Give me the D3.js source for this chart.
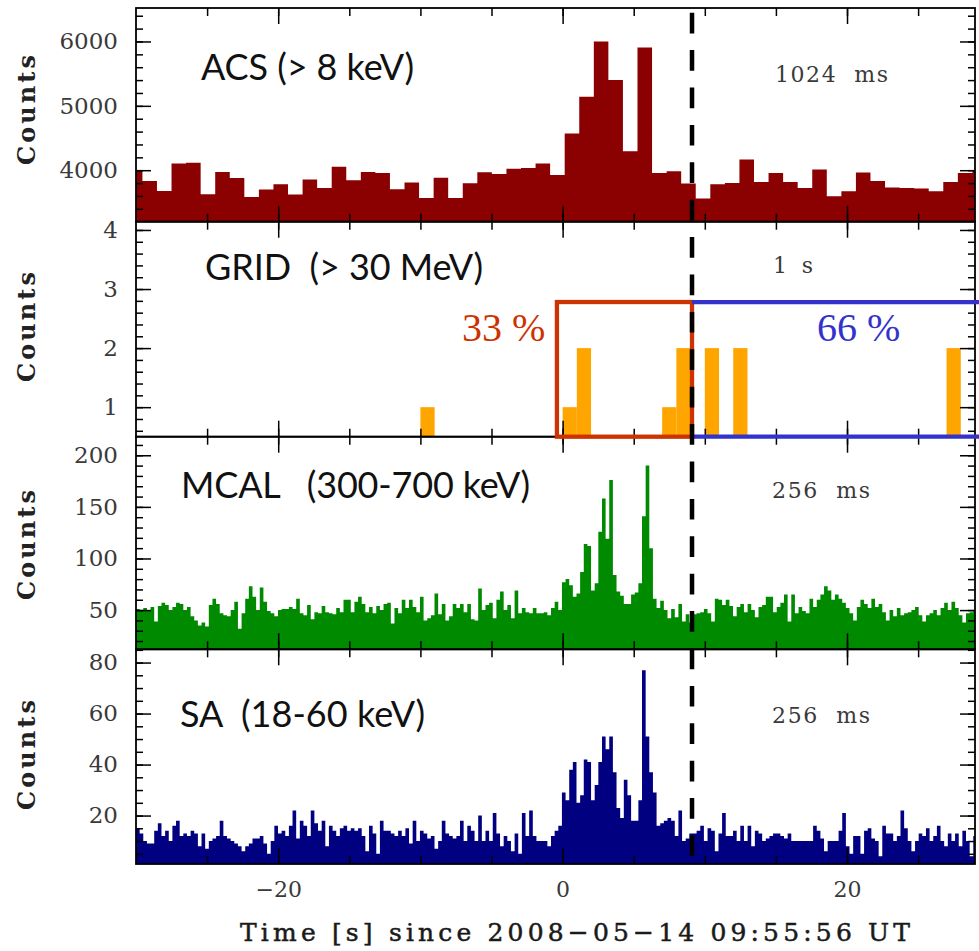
<!DOCTYPE html>
<html>
<head>
<meta charset="utf-8">
<script src="https://cdn.jsdelivr.net/npm/d3@7"></script>
<style>
  html, body { margin: 0; padding: 0; background: #fff; }
  svg { display: block; }
  text { white-space: pre; }
</style>
</head>
<body>
<script>
// ---------------- data ----------------
// ACS light curve, 1.024 s bins (first bin partly before the plotted range)
const acsStart = -30.574;
const acsBinWidth = 1.024;
const acsCounts = [4000, 3834, 3678, 4104, 4114, 3626, 3974, 3880, 3585, 3699,
  3782, 3621, 3855, 3725, 4052, 3844, 3974, 3958, 3705, 3810,
  3569, 3883, 3569, 3798, 3967, 3940, 4024, 4036, 4104, 3927,
  4571, 5142, 6000, 5402, 4296, 5907, 3958, 3984, 3792, 3559,
  3782, 3803, 4166, 3818, 3958, 3818, 3725, 4010, 3595, 3673,
  3964, 3834, 3730, 3725, 3715, 3673, 3818, 3958, 3990];

// GRID photons above 30 MeV, 1 s bins (only non-empty bins listed)
const gridBinStarts = [-10, 0, 1, 7, 8, 10, 12, 27];
const gridCounts = [1, 1, 2, 1, 2, 2, 2, 2];
const gridBinWidth = 1;

// MCAL 300-700 keV, 256 ms bins
const mcalStart = -30;
const mcalBinWidth = 0.256;
const mcalCounts = [51, 50, 52, 49, 53, 39, 54, 57, 55, 50, 53, 57, 56, 50, 53,
  44, 40, 35, 38, 34, 55, 61, 56, 47, 45, 44, 50, 58, 32, 47,
  61, 73, 63, 50, 72, 58, 49, 47, 44, 50, 51, 51, 53, 51, 61,
  47, 45, 55, 41, 48, 47, 54, 48, 47, 46, 52, 48, 60, 60, 48,
  58, 63, 56, 48, 53, 47, 54, 50, 56, 57, 37, 52, 47, 60, 52,
  60, 53, 48, 63, 40, 42, 45, 66, 46, 56, 40, 44, 56, 52, 56,
  48, 56, 41, 40, 71, 50, 55, 57, 42, 60, 68, 50, 55, 42, 69,
  47, 52, 48, 47, 52, 47,
  47, 48, 45, 52, 58, 50, 77, 80, 74, 63, 66, 87,
  114, 112, 69, 76, 126, 158, 119, 176, 84, 68, 64, 56,
  56, 65, 67, 76, 141, 190, 110, 61, 52, 59, 50, 42,
  51, 43, 56, 39, 46, 38,
  46, 47, 48, 51, 47, 39, 61, 60, 55, 60, 54, 44, 53, 56, 48, 56, 50, 43,
  53, 55, 63, 63, 48, 53, 57, 65, 39, 65, 47, 53, 49, 47, 61, 53, 60, 65,
  73, 69, 60, 65, 61, 57, 52, 47, 40, 53, 60, 56, 52, 61, 53, 56, 48, 40,
  50, 44, 52, 45, 47, 48, 50, 53, 45, 39, 45, 47, 50, 45, 52, 57, 50, 58,
  52, 45, 38, 47, 48, 50];

// SuperAGILE 18-60 keV, 256 ms bins
const saStart = -30;
const saBinWidth = 0.256;
const saCounts = [15, 13, 10, 9, 9, 14, 17, 12, 14, 10, 16, 18, 12, 13, 12,
  14, 13, 8, 13, 7, 10, 11, 12, 18, 12, 11, 10, 9, 8, 6,
  8, 9, 11, 11, 12, 9, 5, 10, 16, 13, 14, 12, 16, 22, 11,
  18, 16, 12, 22, 17, 14, 18, 8, 16, 14, 12, 15, 16, 14, 15,
  14, 15, 12, 6, 16, 13, 5, 18, 14, 14, 13, 12, 14, 12, 15,
  9, 18, 10, 14, 13, 11, 12, 7, 10, 18, 13, 12, 11, 12, 18,
  10, 16, 14, 10, 20,
  10, 14, 10, 21, 13, 8, 12, 10, 6, 13, 5, 21, 12, 22, 12, 10,
  10, 10, 8, 12, 14, 16, 29, 26, 38, 41, 25, 28, 42, 41, 26, 32, 41, 51,
  46, 51, 37, 23, 19, 34, 28, 18, 18, 26, 77, 51, 37, 29, 16, 17, 18, 19,
  18, 12, 22, 10, 11, 13,
  13, 14, 16, 10, 15, 14, 6, 13, 21, 12, 12, 14, 10, 16, 10, 16, 8, 14,
  13, 10, 11, 12, 13, 13, 12, 11, 13, 10, 10, 10, 10, 10, 10, 16, 14, 11,
  6, 10, 10, 10, 14, 21, 8, 5, 12, 12, 5, 14, 15, 11, 10, 4, 16, 13,
  13, 10, 12, 22, 15, 10, 6, 10, 13, 12, 15, 10, 12, 16, 10, 8, 13, 10,
  13, 8, 14, 10, 4, 12];

const timeTicks = [-20, 0, 20];
const countTicks = [[4000, 5000, 6000], [1, 2, 3, 4], [50, 100, 150, 200], [20, 40, 60, 80]];
const panelNames = ["ACS (> 8 keV)", "GRID  (> 30 MeV)", "MCAL   (300-700 keV)", "SA  (18-60 keV)"];
const binLabels = ["1024  ms", "1  s", "256  ms", "256  ms"];
const shareLabels = ["33 %", "66 %"];
const burstWindow = [-0.4, 9.1];   // start of the first window, and the split time
const boxTopCounts = 2.78;          // upper edge of the GRID windows, in counts
const xTitle = "Time [s] since 2008\u221205\u221214 09:55:56 UT";

// ---------------- layout ----------------
const W = 979, H = 951;
const left = 136, right = 975;
const rows = [[8, 221.7], [221.7, 436.7], [436.7, 649.3], [649.3, 864]];
const yDomains = [[3200, 6520], [0.5, 4.14], [12, 218], [1, 85.2]];
const minorSteps = [200, 0.2, 10, 5];
const fills = ["#8b0000", "#ffa500", "#008a00", "#000080"];
const countsLabelY = [110, 327, 545, 755];
const nameLayout = [
  { x: 201, y: 80, len: 213 },
  { x: 205, y: 280, len: 278 },
  { x: 181, y: 498, len: 349 },
  { x: 180, y: 727, len: 245 }
];
const binLabelLayout = [
  { x: 775, y: 82, len: 113 },
  { x: 773, y: 273, len: 40 },
  { x: 772, y: 498, len: 98 },
  { x: 772, y: 723, len: 98 }
];
const serif = "'DejaVu Serif', serif";
const tickGray = "#3a3a3a";

const svg = d3.select("body").append("svg")
  .attr("width", W).attr("height", H)
  .style("font-family", serif);

const x = d3.scaleLinear().domain([-30, 29]).range([left, right]);
const minorX = d3.range(-25, 29, 5);

const series = [
  { counts: acsCounts, start: acsStart, width: acsBinWidth },
  null,
  { counts: mcalCounts, start: mcalStart, width: mcalBinWidth },
  { counts: saCounts, start: saStart, width: saBinWidth }
];

function tidy(g) {
  g.select(".domain").remove();
  g.selectAll("line").attr("stroke", "#000").attr("stroke-width", 1.5);
  g.attr("font-family", null).attr("font-size", null);
}

const yScales = [];

rows.forEach(([top, bottom], i) => {
  const y = d3.scaleLinear().domain(yDomains[i]).range([bottom, top]);
  yScales.push(y);

  svg.append("clipPath").attr("id", "clip" + i)
    .append("rect")
    .attr("x", left).attr("y", top)
    .attr("width", right - left).attr("height", bottom - top);
  const layer = svg.append("g").attr("clip-path", `url(#clip${i})`);

  if (i === 1) {
    layer.selectAll("rect")
      .data(gridBinStarts.map((t, k) => ({ t, v: gridCounts[k] })))
      .join("rect")
      .attr("x", d => x(d.t))
      .attr("width", d => x(d.t + gridBinWidth) - x(d.t))
      .attr("y", d => y(d.v))
      .attr("height", d => y(yDomains[i][0]) - y(d.v))
      .attr("fill", fills[i]);
  } else {
    const s = series[i];
    const pts = s.counts.flatMap((v, k) => [
      [s.start + k * s.width, v],
      [s.start + (k + 1) * s.width, v]
    ]);
    const area = d3.area()
      .x(d => x(d[0]))
      .y0(y(yDomains[i][0]))
      .y1(d => y(d[1]));
    layer.append("path").attr("d", area(pts)).attr("fill", fills[i]);
  }

  // minor and major y ticks, both sides, pointing inward
  const [d0, d1] = yDomains[i];
  const st = minorSteps[i];
  const minorY = d3.range(Math.ceil(d0 / st - 1e-9), Math.floor(d1 / st + 1e-9) + 1)
    .map(k => +(k * st).toFixed(6))
    .filter(v => v > d0 && v < d1);

  svg.append("g").attr("transform", `translate(${left},0)`)
    .call(d3.axisLeft(y).tickValues(minorY).tickSize(-7).tickFormat(""))
    .call(tidy);
  svg.append("g").attr("transform", `translate(${right},0)`)
    .call(d3.axisRight(y).tickValues(minorY).tickSize(-7).tickFormat(""))
    .call(tidy);
  svg.append("g").attr("transform", `translate(${right},0)`)
    .call(d3.axisRight(y).tickValues(countTicks[i]).tickSize(-15).tickFormat(""))
    .call(tidy);
  svg.append("g").attr("transform", `translate(${left},0)`)
    .call(d3.axisLeft(y).tickValues(countTicks[i]).tickSize(-15).tickPadding(18).tickFormat(d3.format("d")))
    .call(tidy)
    .call(g => g.selectAll("text")
      .attr("fill", tickGray)
      .style("font-family", serif)
      .style("font-size", "23px"));

  // x ticks on top and bottom edges
  svg.append("g").attr("transform", `translate(0,${top})`)
    .call(d3.axisTop(x).tickValues(minorX).tickSize(-8).tickFormat(""))
    .call(tidy);
  svg.append("g").attr("transform", `translate(0,${top})`)
    .call(d3.axisTop(x).tickValues(timeTicks).tickSize(-16).tickFormat(""))
    .call(tidy);
  svg.append("g").attr("transform", `translate(0,${bottom})`)
    .call(d3.axisBottom(x).tickValues(minorX).tickSize(-8).tickFormat(""))
    .call(tidy);
  const bottomMajor = d3.axisBottom(x).tickValues(timeTicks).tickSize(-16).tickPadding(17);
  if (i < rows.length - 1) bottomMajor.tickFormat("");
  svg.append("g").attr("transform", `translate(0,${bottom})`)
    .call(bottomMajor)
    .call(tidy)
    .call(g => g.selectAll("text")
      .attr("fill", tickGray)
      .style("font-family", serif)
      .style("font-size", "22px"));

  // panel frame
  svg.append("rect")
    .attr("x", left).attr("y", top)
    .attr("width", right - left).attr("height", bottom - top)
    .attr("fill", "none").attr("stroke", "#000").attr("stroke-width", 1.8);

  // y axis title
  svg.append("text")
    .attr("transform", `translate(35,${countsLabelY[i]}) rotate(-90)`)
    .attr("text-anchor", "middle")
    .attr("textLength", 110).attr("lengthAdjust", "spacing")
    .style("font-family", serif).style("font-size", "24px").style("font-weight", "bold")
    .attr("fill", "#222")
    .text("Counts");

  // instrument name and bin size
  svg.append("text")
    .attr("x", nameLayout[i].x).attr("y", nameLayout[i].y)
    .attr("textLength", nameLayout[i].len).attr("lengthAdjust", "spacing")
    .style("font-family", "Lato, 'Open Sans', sans-serif").style("font-size", "36px")
    .attr("fill", "#111")
    .text(panelNames[i]);
  svg.append("text")
    .attr("x", binLabelLayout[i].x).attr("y", binLabelLayout[i].y)
    .attr("textLength", binLabelLayout[i].len).attr("lengthAdjust", "spacing")
    .style("font-family", serif).style("font-size", "22px")
    .attr("fill", tickGray)
    .text(binLabels[i]);
});

// GRID windows before and after the split
const yGrid = yScales[1];
const boxTop = yGrid(boxTopCounts);
const boxBottom = yGrid(yDomains[1][0]);
const xSplit = x(burstWindow[1]);
svg.append("rect")
  .attr("x", x(burstWindow[0])).attr("y", boxTop)
  .attr("width", xSplit - x(burstWindow[0])).attr("height", boxBottom - boxTop)
  .attr("fill", "none").attr("stroke", "#cc3300").attr("stroke-width", 4.3);
[boxTop, boxBottom].forEach(yy => {
  svg.append("line")
    .attr("x1", xSplit).attr("x2", W + 5)
    .attr("y1", yy).attr("y2", yy)
    .attr("stroke", "#3333cc").attr("stroke-width", 4.3);
});

svg.append("text")
  .attr("x", 462).attr("y", 341)
  .style("font-family", "'Liberation Serif', 'Times New Roman', serif").style("font-size", "40px")
  .attr("fill", "#cc3300")
  .text(shareLabels[0]);
svg.append("text")
  .attr("x", 817).attr("y", 341)
  .style("font-family", "'Liberation Serif', 'Times New Roman', serif").style("font-size", "40px")
  .attr("fill", "#3333cc")
  .text(shareLabels[1]);

// split marker
svg.append("line")
  .attr("x1", xSplit).attr("x2", xSplit)
  .attr("y1", 12.7).attr("y2", 856)
  .attr("stroke", "#000").attr("stroke-width", 4.5)
  .attr("stroke-dasharray", "20.7 16.7");

// x axis title
svg.append("text")
  .attr("x", 575).attr("y", 941)
  .attr("text-anchor", "middle")
  .attr("textLength", 670).attr("lengthAdjust", "spacing")
  .style("font-family", serif).style("font-size", "25px")
  .attr("fill", "#1a1a1a").attr("stroke", "#1a1a1a").attr("stroke-width", 0.5)
  .text(xTitle);
</script>
</body>
</html>
